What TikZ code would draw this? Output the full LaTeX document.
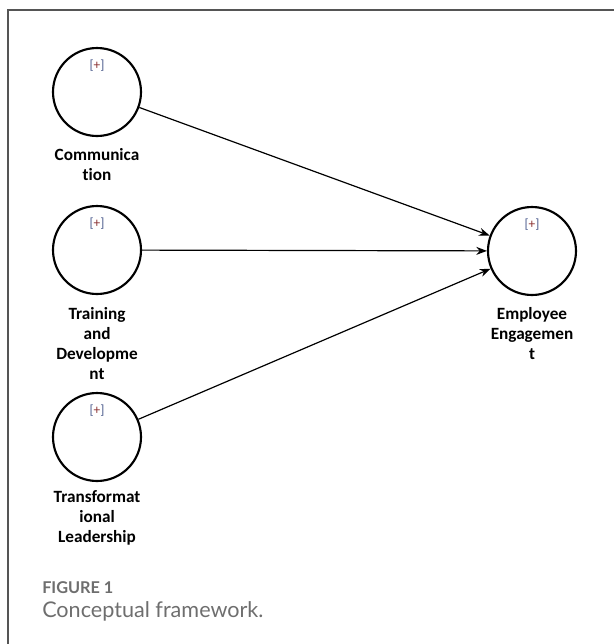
\documentclass[tikz,border=0pt]{standalone}
\usepackage{fontspec}
\setmainfont{Carlito}[Ligatures=NoCommon]
\newfontfamily\captionfont{Lato}
\usepackage{xcolor}
\usetikzlibrary{arrows.meta}
\usetikzlibrary{positioning}
\definecolor{framegray}{HTML}{555555}
\definecolor{capgray}{HTML}{6E6E6E}
\definecolor{brblue}{HTML}{4A5A8C}
\definecolor{plusred}{HTML}{8A3030}
\newcommand{\plusmark}{{\color{brblue}[}{\color{plusred}+}{\color{brblue}]}}
\begin{document}
\begin{tikzpicture}[x=0.75pt, y=-0.75pt,
    construct/.style={circle, draw, line width=1.6pt, minimum size=66pt, inner sep=0pt},
    lbl/.style={font=\fontsize{12.9}{15}\selectfont\bfseries, align=center, inner sep=0pt, anchor=north},
    tag/.style={font=\fontsize{10}{12}\selectfont, inner sep=0pt},
    path/.style={line width=0.9pt, -{Stealth[length=8pt, width=6pt]}}]
    \useasboundingbox (0,0) rectangle (614,644);
    % frame
    \draw[framegray, line width=1.1pt] (8,644) -- (8,10) -- (614,10);

    \node[construct] (comm) at (97,92) {};
    \node[construct] (train) at (97,250) {};
    \node[construct] (trans) at (97,437) {};
    \node[construct] (engage) at (532,251) {};

    \node[tag] (commtag) at (97,66) {\plusmark};
    \node[tag] (traintag) at (97,224) {\plusmark};
    \node[tag] (transtag) at (97,411) {\plusmark};
    \node[tag] (engagetag) at (532,225) {\plusmark};

    \node[lbl] (commlbl) at (97,148) {Communica\\tion};
    \node[lbl] (trainlbl) at (97,307) {Training\\and\\Developme\\nt};
    \node[lbl] (translbl) at (97,490) {Transformat\\ional\\Leadership};
    \node[lbl] (engagelbl) at (532,307) {Employee\\Engagemen\\t};

    \draw[path] (comm) -- (engage);
    \draw[path] (train) -- (engage);
    \draw[path] (trans) -- (engage);

    % caption
    \node[anchor=west, inner sep=0pt, text=capgray, font=\captionfont\fontsize{12.2}{14}\selectfont\bfseries] (fig) at (42,588) {FIGURE 1};
    \node[anchor=west, inner sep=0pt, text=capgray, font=\captionfont\fontsize{16.2}{19}\selectfont] (cap) at (42,611) {Conceptual framework.};
\end{tikzpicture}
\end{document}
